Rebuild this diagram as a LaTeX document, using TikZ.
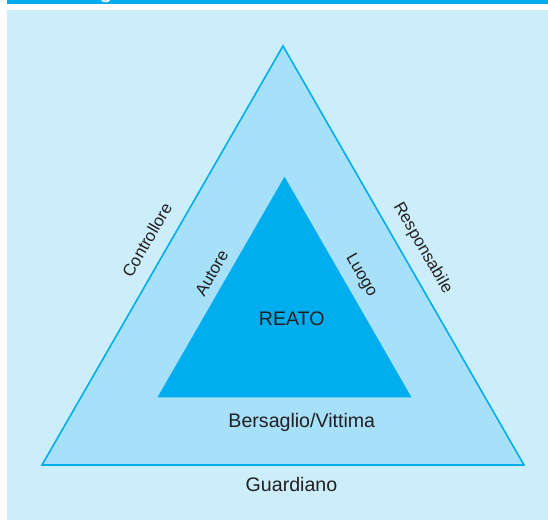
\documentclass[tikz,border=0pt]{standalone}
\usepackage{fontspec}
\setmainfont{Liberation Sans}
\definecolor{bgblue}{HTML}{CCEEFA}
\definecolor{midblue}{HTML}{A7E1F9}
\definecolor{cyanblue}{HTML}{00AEEF}
\definecolor{txt}{HTML}{231F20}
\begin{document}
\begin{tikzpicture}[x=1pt,y=1pt,
  lbl/.style={inner sep=0pt, text=txt, font=\fontsize{19.6}{22}\selectfont},
  rlbl/.style={inner sep=0pt, text=txt, font=\fontsize{16.8}{20}\selectfont}]
\useasboundingbox (0,0) rectangle (548,520);
\fill[white] (0,0) rectangle (548,520);
\fill[bgblue] (7,0) rectangle (548,510);
\fill[cyanblue] (7,515.7) rectangle (548,520);
\node[anchor=base, inner sep=0pt, text=white, font=\fontsize{20}{24}\selectfont\bfseries] (title) at (106,521.5) {g};
% outer triangle
\coordinate (oL) at (42,55);
\coordinate (oR) at (524,55);
\coordinate (oT) at (283,474);
\filldraw[fill=midblue, draw=cyanblue, line width=1.6pt, line join=miter] (oL) -- (oR) -- (oT) -- cycle;
% inner triangle
\coordinate (iL) at (157.5,122.7);
\coordinate (iR) at (411.5,122.7);
\coordinate (iT) at (284.5,343.3);
\fill[cyanblue] (iL) -- (iR) -- (iT) -- cycle;
% labels
\node[lbl, anchor=base] (reato) at (291.7,195) {REATO};
\node[lbl, anchor=base] (bers) at (301.8,92.5) {Bersaglio/Vittima};
\node[lbl, anchor=base] (guard) at (291.5,28.5) {Guardiano};
\node[rlbl, rotate=60] (contr) at (147,280) {Controllore};
\node[rlbl, rotate=60] (autore) at (211.7,246.7) {Autore};
\node[rlbl, rotate=-60] (luogo) at (361,244.2) {Luogo};
\node[rlbl, rotate=-60] (resp) at (422.5,271.7) {Responsabile};
\end{tikzpicture}
\end{document}
